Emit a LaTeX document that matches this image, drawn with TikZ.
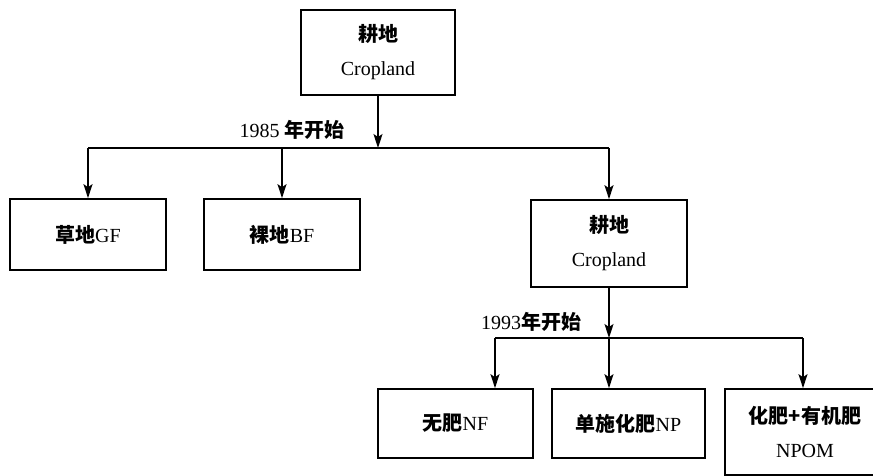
\documentclass[tikz,border=0pt]{standalone}
\usepackage{fontspec}
\setmainfont{Liberation Serif}
\newfontfamily\cjk{Noto Sans CJK SC}
\usetikzlibrary{arrows.meta}
\tikzset{
  box/.style={draw, line width=1.7pt, inner sep=0pt, align=center, font=\fontsize{20}{34}\selectfont},
  conn/.style={line width=1.5pt},
  arr/.style={conn, -{Stealth[length=14pt,width=9pt,inset=3pt]}},
  lbl/.style={inner sep=0pt, font=\fontsize{20}{24}\selectfont}
}
\begin{document}
\begin{tikzpicture}[x=1pt,y=-1pt]
\useasboundingbox (0,0) rectangle (873,476);
\clip (0,0) rectangle (873,476);
\node[box, minimum width=154pt, minimum height=85pt] (top) at (378,52.5) {{\cjk\bfseries 耕地}\\Cropland};
\node[box, minimum width=156pt, minimum height=71pt] (gf) at (88,234.5) {{\cjk\bfseries 草地}GF};
\node[box, minimum width=156pt, minimum height=71pt] (bf) at (282,234.5) {{\cjk\bfseries 裸地}BF};
\node[box, minimum width=156pt, minimum height=87pt] (crop) at (609,243.5) {{\cjk\bfseries 耕地}\\Cropland};
\node[box, minimum width=155pt, minimum height=69pt] (nf) at (455.5,423.5) {{\cjk\bfseries 无肥}NF};
\node[box, minimum width=153pt, minimum height=69pt] (np) at (628.5,423.5) {{\cjk\bfseries 单施化肥}NP};
\node[box, minimum width=160pt, minimum height=86pt] (npom) at (805,432) {{\cjk\bfseries 化肥+有机肥}\\NPOM};
\node[lbl] (l1) at (292,130) {1985 {\cjk\bfseries 年开始}};
\node[lbl] (l2) at (531,322) {1993{\cjk\bfseries 年开始}};
% upper tree
\coordinate (ja) at (gf.north |- 0,148);
\coordinate (jb) at (bf.north |- 0,148);
\coordinate (jt) at (top.south |- 0,148);
\coordinate (jc) at (crop.north |- 0,148);
\draw[arr] (top.south) -- (jt);
\draw[conn] (ja) -- (jc);
\draw[arr] (ja) -- (gf.north);
\draw[arr] (jb) -- (bf.north);
\draw[arr] (jc) -- (crop.north);
% lower tree
\coordinate (ka) at (495,338);
\coordinate (kb) at (crop.south |- 0,338);
\coordinate (kc) at (803,338);
\draw[arr] (crop.south) -- (kb);
\draw[conn] (ka) -- (kc);
\draw[arr] (ka) -- (ka |- nf.north);
\draw[arr] (kb) -- (kb |- np.north);
\draw[arr] (kc) -- (kc |- npom.north);
\end{tikzpicture}
\end{document}
